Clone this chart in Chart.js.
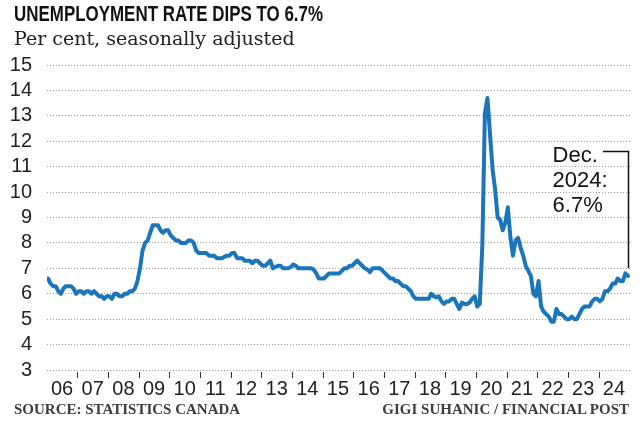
<!DOCTYPE html>
<html>
<head>
<meta charset="utf-8">
<script src="https://cdn.jsdelivr.net/npm/chart.js@4.4.1/dist/chart.umd.min.js"></script>
<style>
  body { margin: 0; background: #fff; }
  #wrap { position: relative; width: 640px; height: 432px; overflow: hidden; }
  #chart { position: absolute; left: 0; top: 0; }
  .txt { position: absolute; white-space: nowrap; }
  #title { left: 14px; top: 3px; font: bold 22px/22px "Liberation Sans", sans-serif; color: #111;
           transform: scaleX(0.77); transform-origin: 0 0; }
  #sub { left: 14px; top: 29px; font: 19px/19px "DejaVu Serif", serif; color: #222; }
  #src { left: 14px; top: 402px; font: bold 15px/15px "Liberation Serif", serif; color: #3c3c3c; }
  #credit { right: 11px; top: 402px; font: bold 15px/15px "Liberation Serif", serif; color: #3c3c3c; }
</style>
</head>
<body>
<div id="wrap">
  <canvas id="chart" width="640" height="432"></canvas>
  <div class="txt" id="title">UNEMPLOYMENT RATE DIPS TO 6.7%</div>
  <div class="txt" id="sub">Per cent, seasonally adjusted</div>
  <div class="txt" id="src">SOURCE: STATISTICS CANADA</div>
  <div class="txt" id="credit">GIGI SUHANIC / FINANCIAL POST</div>
</div>
<script>
// monthly rate, one array per year (Jan..Dec)
const r2006 = [6.6, 6.4, 6.3, 6.3, 6.1, 6.0, 6.2, 6.3, 6.3, 6.3, 6.2, 6.0];
const r2007 = [6.1, 6.1, 6.0, 6.1, 6.1, 6.0, 6.1, 6.0, 5.9, 5.9, 5.8, 5.9];
const r2008 = [5.9, 5.8, 6.0, 6.0, 5.9, 5.9, 6.0, 6.0, 6.1, 6.1, 6.2, 6.5];
const r2009 = [7.0, 7.7, 8.0, 8.1, 8.4, 8.7, 8.7, 8.7, 8.5, 8.4, 8.5, 8.5];
const r2010 = [8.3, 8.2, 8.1, 8.1, 8.0, 8.0, 8.0, 8.1, 8.1, 8.0, 7.7, 7.6];
const r2011 = [7.6, 7.6, 7.6, 7.5, 7.5, 7.5, 7.4, 7.4, 7.4, 7.45, 7.5, 7.5];
const r2012 = [7.6, 7.6, 7.4, 7.4, 7.4, 7.3, 7.3, 7.3, 7.2, 7.3, 7.3, 7.2];
const r2013 = [7.1, 7.1, 7.2, 7.3, 7.0, 7.05, 7.1, 7.1, 7.0, 7.0, 7.0, 7.05];
const r2014 = [7.15, 7.1, 7.0, 7.0, 7.0, 7.0, 7.0, 7.0, 6.95, 6.8, 6.6, 6.6];
const r2015 = [6.6, 6.7, 6.8, 6.8, 6.8, 6.8, 6.8, 6.9, 7.0, 7.0, 7.1, 7.1];
const r2016 = [7.2, 7.3, 7.2, 7.1, 7.0, 6.95, 6.85, 7.0, 7.0, 7.0, 7.0, 6.9];
const r2017 = [6.8, 6.7, 6.6, 6.6, 6.5, 6.5, 6.4, 6.3, 6.3, 6.2, 6.1, 5.9];
const r2018 = [5.8, 5.8, 5.8, 5.8, 5.8, 5.8, 6.0, 5.9, 5.85, 5.9, 5.7, 5.6];
const r2019 = [5.7, 5.7, 5.8, 5.8, 5.6, 5.4, 5.65, 5.6, 5.6, 5.65, 5.8, 5.9];
const r2020 = [5.5, 5.6, 7.9, 13.1, 13.7, 12.3, 10.9, 10.1, 9.0, 8.9, 8.5, 8.8];
const r2021 = [9.4, 8.2, 7.5, 8.1, 8.2, 7.8, 7.5, 7.1, 6.9, 6.7, 6.0, 5.9];
const r2022 = [6.5, 5.5, 5.3, 5.2, 5.1, 4.9, 4.9, 5.4, 5.2, 5.2, 5.1, 5.0];
const r2023 = [5.0, 5.1, 5.0, 5.0, 5.2, 5.4, 5.5, 5.5, 5.5, 5.7, 5.8, 5.8];
const r2024 = [5.7, 5.8, 6.1, 6.1, 6.2, 6.4, 6.4, 6.6, 6.5, 6.5, 6.8, 6.7];

const yearLabels = ['06', '07', '08', '09', '10', '11', '12', '13', '14', '15',
  '16', '17', '18', '19', '20', '21', '22', '23', '24'];
const yTicks = [3, 4, 5, 6, 7, 8, 9, 10, 11, 12, 13, 14, 15];
const noteLines = ['Dec.', '2024:', '6.7%'];

const rates = [].concat(r2006, r2007, r2008, r2009, r2010, r2011, r2012, r2013, r2014,
  r2015, r2016, r2017, r2018, r2019, r2020, r2021, r2022, r2023, r2024);
const points = rates.map((v, i) => ({ x: i, y: v }));
const lastIdx = rates.length - 1;

const FONT_AX = '"Liberation Sans", sans-serif';

// small year ticks between labels + the Dec. 2024 callout
const extras = {
  id: 'extras',
  afterDraw(chart) {
    const { ctx, chartArea } = chart;
    const x = chart.scales.x, y = chart.scales.y;
    ctx.save();
    ctx.strokeStyle = '#333';
    ctx.lineWidth = 1;
    for (let i = 1; i < yearLabels.length; i++) {
      const px = Math.round(x.getPixelForValue(i * 12 - 0.5)) + 0.5;
      ctx.beginPath();
      ctx.moveTo(px, chartArea.bottom + 2);
      ctx.lineTo(px, chartArea.bottom + 8);
      ctx.stroke();
    }

    // callout text
    ctx.fillStyle = '#111';
    ctx.font = '22px "Liberation Sans", sans-serif';
    ctx.textAlign = 'left';
    ctx.textBaseline = 'alphabetic';
    const tx = x.getPixelForValue(197.5);
    noteLines.forEach((t, i) => {
      ctx.fillText(t, tx, y.getPixelForValue(11.2 - i));
    });

    // bracket
    const bx = Math.round(x.getPixelForValue(lastIdx)) + 0.5;
    const top = Math.round(y.getPixelForValue(11.62)) + 0.5;
    ctx.lineWidth = 1.5;
    ctx.strokeStyle = '#111';
    ctx.beginPath();
    ctx.moveTo(x.getPixelForValue(217.2), top);
    ctx.lineTo(bx, top);
    ctx.lineTo(bx, y.getPixelForValue(rates[lastIdx] + 0.3));
    ctx.stroke();
    ctx.restore();
  }
};

new Chart(document.getElementById('chart'), {
  type: 'line',
  data: {
    datasets: [{
      data: points,
      borderColor: '#1b75bb',
      borderWidth: 4,
      pointRadius: 0,
      tension: 0,
      borderJoinStyle: 'round',
      borderCapStyle: 'round'
    }]
  },
  options: {
    responsive: false,
    animation: false,
    devicePixelRatio: 1,
    layout: { padding: { top: 65, right: 10, left: 0, bottom: 0 } },
    plugins: { legend: { display: false }, tooltip: { enabled: false } },
    scales: {
      x: {
        type: 'linear',
        min: -0.4,
        max: 227.8,
        afterFit: s => { s.height = 62; },
        afterBuildTicks: s => { s.ticks = yearLabels.map((_, i) => ({ value: i * 12 + 5.5 })); },
        grid: { display: false },
        border: { display: false },
        ticks: {
          autoSkip: false,
          maxRotation: 0,
          padding: -1,
          color: '#222',
          font: { family: FONT_AX, size: 20 },
          callback: (v, i) => yearLabels[i]
        }
      },
      y: {
        min: yTicks[0],
        max: yTicks[yTicks.length - 1],
        afterFit: s => { s.width = 47; },
        afterBuildTicks: s => { s.ticks = yTicks.map(v => ({ value: v })); },
        grid: { color: '#999', lineWidth: 1, drawTicks: false },
        border: { display: false, dash: [1, 2] },
        ticks: {
          autoSkip: false,
          padding: 15,
          color: '#222',
          font: { family: FONT_AX, size: 20 }
        }
      }
    }
  },
  plugins: [extras]
});
</script>
</body>
</html>
